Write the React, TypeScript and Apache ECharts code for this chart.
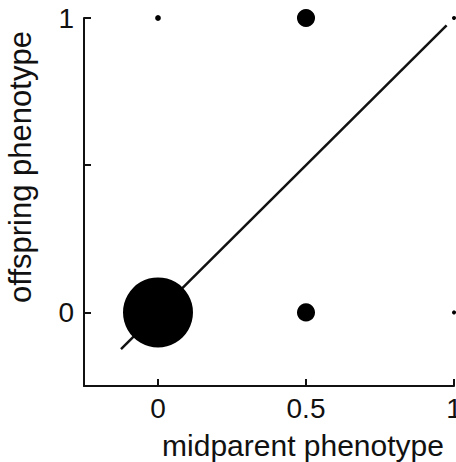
import React, { useEffect, useRef } from "react";
import * as echarts from "echarts";

// Midparent vs offspring phenotype; marker area scales with the number of families.
const midparent = [0, 0.5, 0.5, 0, 1, 1];
const offspring = [0, 0, 1, 1, 1, 0];
const counts = [300, 20, 20, 2, 1, 1];

// End points of the fitted regression line.
const fitX = [-0.125, 0.975];
const fitY = [-0.125, 0.975];

const tickValues = [0, 0.5, 1];
const xLabelValues = [0, 0.5, 1];
const yLabelValues = [0, 1];

const FONT = "'Liberation Sans', Arial, Helvetica, sans-serif";
const INK = "#111";

export default function App() {
  const ref = useRef<HTMLDivElement>(null);

  useEffect(() => {
    if (!ref.current) return;
    const chart = echarts.init(ref.current, undefined, { renderer: "svg" });

    const points = midparent.map((x, i) => [x, offspring[i], counts[i]]);
    const fit = fitX.map((x, i) => [x, fitY[i]]);

    const axisCommon = {
      type: "value" as const,
      min: -0.25,
      max: 1,
      splitLine: { show: false },
      axisLine: { show: true, onZero: false, lineStyle: { color: INK, width: 2 } },
      axisTick: {
        show: true,
        inside: true,
        length: 7,
        customValues: tickValues,
        lineStyle: { color: INK, width: 2 },
      },
      nameLocation: "middle" as const,
    };

    chart.setOption({
      animation: false,
      backgroundColor: "#fff",
      grid: {
        left: 84,
        right: 2,
        top: 18,
        bottom: 76,
        containLabel: false,
        outerBoundsMode: "none",
      },
      xAxis: {
        ...axisCommon,
        name: "midparent phenotype",
        nameGap: 44,
        // shift the title toward the right-hand part of the axis
        nameTextStyle: {
          fontFamily: FONT,
          fontSize: 30,
          color: INK,
          padding: [0, 0, 0, 68],
        },
        axisLabel: {
          customValues: xLabelValues,
          margin: 8,
          fontFamily: FONT,
          fontSize: 28,
          color: INK,
        },
      },
      yAxis: {
        ...axisCommon,
        name: "offspring phenotype",
        nameGap: 48,
        // centre the title on the 0..1 span rather than the full axis
        nameTextStyle: {
          fontFamily: FONT,
          fontSize: 31,
          color: INK,
          padding: [0, 0, 0, 70],
        },
        axisLabel: {
          customValues: yLabelValues,
          margin: 10,
          fontFamily: FONT,
          fontSize: 28,
          color: INK,
        },
      },
      series: [
        {
          type: "line",
          data: fit,
          symbol: "none",
          lineStyle: { color: INK, width: 2.5 },
          z: 2,
        },
        {
          type: "scatter",
          data: points,
          symbolSize: (v: number[]) => 4.04 * Math.sqrt(v[2]),
          itemStyle: { color: "#000", opacity: 1 },
          clip: false,
          z: 3,
        },
      ],
    });

    return () => chart.dispose();
  }, []);

  return (
    <div
      ref={ref}
      style={{ position: "absolute", left: 0, top: 0, width: 456, height: 462 }}
    />
  );
}
